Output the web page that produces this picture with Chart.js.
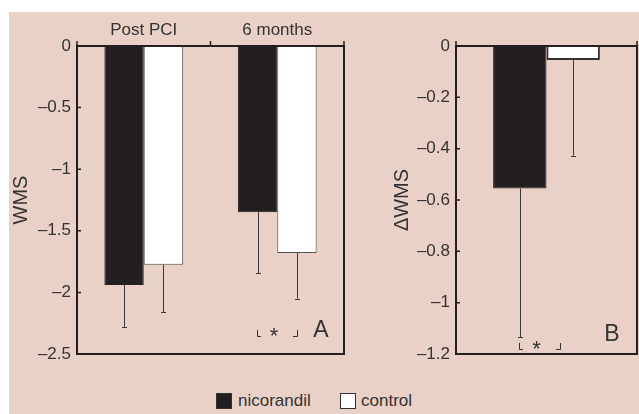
<!DOCTYPE html>
<html>
<head>
<meta charset="utf-8">
<script src="https://cdn.jsdelivr.net/npm/chart.js@4"></script>
<style>
  html, body { margin: 0; padding: 0; background: #ffffff; }
  #page { position: relative; width: 639px; height: 414px; overflow: hidden; }
  #bg { position: absolute; left: 9px; top: 12px; width: 630px; height: 402px; background: #e9d1c8; }
  .box { position: absolute; top: 0; height: 380px; }
  #boxA { left: 0; width: 360px; }
  #boxB { left: 360px; width: 279px; }
  #legend { position: absolute; top: 391px; left: 0; width: 639px; height: 20px;
            font-family: "Liberation Sans", Arial, sans-serif; font-size: 17px; color: #333; }
  #legend span { position: absolute; top: 0; line-height: 20px; }
  .sw { position: absolute; top: 2px; width: 14px; height: 14px; border: 1px solid #333; }
</style>
</head>
<body>
<div id="page">
  <div id="bg"></div>
  <div class="box" id="boxA"><canvas id="chartA"></canvas></div>
  <div class="box" id="boxB"><canvas id="chartB"></canvas></div>
  <div id="legend">
    <div class="sw" style="left:216px; background:#231f20;"></div>
    <span style="left:238px;">nicorandil</span>
    <div class="sw" style="left:340px; background:#ffffff;"></div>
    <span style="left:361px;">control</span>
  </div>
</div>
<script>
// valores
const periods = ['Post PCI', '6 months'];
const wmsNicorandil = [-1.94, -1.35];
const wmsControl = [-1.775, -1.68];
const wmsNicorandilSd = [0.34, 0.495];
const wmsControlSd = [0.385, 0.37];

const deltaLabels = [''];
const deltaNicorandil = [-0.555];
const deltaControl = [-0.055];
const deltaNicorandilSd = [0.58];
const deltaControlSd = [0.372];

const ticksA = [0, -0.5, -1, -1.5, -2, -2.5];
const ticksB = [0, -0.2, -0.4, -0.6, -0.8, -1, -1.2];

const ink = '#231f20';
const textColor = '#333';
const fontFam = '"Liberation Sans", Arial, sans-serif';

function fmt(v) {
    let s = String(parseFloat(Number(v).toFixed(2)));
    return s.replace('-', '\u2013');
}

// marco, ticks interiores y barras de error
function framePlugin(sdList, tickValues, boundaryTicks, note) {
    return {
        id: 'frame',
        afterDatasetsDraw(chart) {
            const ctx = chart.ctx;
            const y = chart.scales.y;
            ctx.save();
            ctx.strokeStyle = '#3a3a3a';
            ctx.lineWidth = 1;
            chart.data.datasets.forEach((ds, i) => {
                const meta = chart.getDatasetMeta(i);
                meta.data.forEach((bar, j) => {
                    const yEnd = y.getPixelForValue(ds.data[j] - sdList[i][j]);
                    ctx.beginPath();
                    ctx.moveTo(Math.round(bar.x) + 0.5, bar.y);
                    ctx.lineTo(Math.round(bar.x) + 0.5, yEnd);
                    ctx.moveTo(Math.round(bar.x) - 2, Math.round(yEnd) + 0.5);
                    ctx.lineTo(Math.round(bar.x) + 3, Math.round(yEnd) + 0.5);
                    ctx.stroke();
                });
            });
            ctx.restore();
        },
        afterDraw(chart) {
            const ctx = chart.ctx;
            const a = chart.chartArea;
            const y = chart.scales.y;
            ctx.save();
            ctx.strokeStyle = ink;
            ctx.lineWidth = 2;
            ctx.strokeRect(a.left, a.top, a.right - a.left, a.bottom - a.top);
            ctx.lineWidth = 1.5;
            ctx.beginPath();
            tickValues.forEach(v => {
                const py = y.getPixelForValue(v);
                ctx.moveTo(a.left, py);
                ctx.lineTo(a.left + 4, py);
            });
            boundaryTicks(chart).forEach(px => {
                ctx.moveTo(px, a.top);
                ctx.lineTo(px, a.top - 5);
            });
            ctx.stroke();
            note(chart, ctx);
            ctx.restore();
        }
    };
}

function bracket(ctx, x1, x2, yTop, yBot, starY) {
    ctx.strokeStyle = '#333';
    ctx.lineWidth = 1;
    ctx.beginPath();
    ctx.moveTo(x1 + 0.5, yTop);
    ctx.lineTo(x1 + 0.5, yBot + 0.5);
    ctx.lineTo(x1 + 4, yBot + 0.5);
    ctx.moveTo(x2 - 4, yBot + 0.5);
    ctx.lineTo(x2 + 0.5, yBot + 0.5);
    ctx.lineTo(x2 + 0.5, yTop);
    ctx.stroke();
    ctx.fillStyle = '#333';
    ctx.font = '22px ' + fontFam;
    ctx.textAlign = 'center';
    ctx.textBaseline = 'middle';
    ctx.fillText('*', (x1 + x2) / 2 - 3, starY);
}

function baseOptions(yMin, tickValues, title, titlePad, yWidth, pad) {
    return {
        responsive: true,
        maintainAspectRatio: false,
        animation: false,
        layout: { padding: pad },
        plugins: { legend: { display: false }, tooltip: { enabled: false } },
        scales: {
            x: {
                position: 'top',
                grid: { display: false, drawTicks: false },
                border: { display: false },
                ticks: { color: textColor, font: { family: fontFam, size: 17 }, padding: 5 },
                afterFit: s => { s.height = 46; }
            },
            y: {
                min: yMin,
                max: 0,
                grid: { display: false, drawTicks: false },
                border: { display: false },
                afterBuildTicks: s => { s.ticks = tickValues.map(v => ({ value: v })); },
                ticks: {
                    color: textColor,
                    font: { family: fontFam, size: 17 },
                    padding: 6,
                    callback: v => fmt(v)
                },
                title: {
                    display: true,
                    text: title,
                    color: textColor,
                    font: { family: fontFam, size: 20 },
                    padding: { top: titlePad, bottom: 0 }
                },
                afterFit: s => { s.width = yWidth; }
            }
        }
    };
}

// Panel A: WMS
const optsA = baseOptions(-2.5, ticksA, 'WMS', 9, 77, { left: 0, right: 16, top: 0, bottom: 26 });
new Chart(document.getElementById('chartA'), {
    type: 'bar',
    data: {
        labels: periods,
        datasets: [
            { label: 'nicorandil', data: wmsNicorandil, backgroundColor: ink, borderColor: ink, borderWidth: 1,
              categoryPercentage: 0.59, barPercentage: 1.0 },
            { label: 'control', data: wmsControl, backgroundColor: '#ffffff', borderColor: '#555', borderWidth: 1,
              categoryPercentage: 0.59, barPercentage: 1.0 }
        ]
    },
    options: optsA,
    plugins: [framePlugin([wmsNicorandilSd, wmsControlSd], ticksA,
        chart => {
            const a = chart.chartArea;
            return [a.left, (a.left + a.right) / 2, a.right];
        },
        (chart, ctx) => {
            const y = chart.scales.y;
            const b1 = chart.getDatasetMeta(0).data[1];
            const b2 = chart.getDatasetMeta(1).data[1];
            bracket(ctx, Math.round(b1.x) - 1, Math.round(b2.x), y.getPixelForValue(-2.305),
                Math.round(y.getPixelForValue(-2.355)), y.getPixelForValue(-2.36));
            ctx.font = '23px ' + fontFam;
            ctx.textAlign = 'center';
            ctx.textBaseline = 'alphabetic';
            ctx.fillText('A', chart.chartArea.right - 23, y.getPixelForValue(-2.28) + 10);
        })]
});

// Panel B: cambio de WMS
const optsB = baseOptions(-1.2, ticksB, '\u0394WMS', 30, 96, { left: 0, right: 2, top: 0, bottom: 26 });
optsB.scales.x.ticks.display = false;
new Chart(document.getElementById('chartB'), {
    type: 'bar',
    data: {
        labels: deltaLabels,
        datasets: [
            { label: 'nicorandil', data: deltaNicorandil, backgroundColor: ink, borderColor: ink, borderWidth: 1,
              categoryPercentage: 0.59, barPercentage: 1.0 },
            { label: 'control', data: deltaControl, backgroundColor: '#ffffff', borderColor: '#333', borderWidth: 2,
              categoryPercentage: 0.59, barPercentage: 1.0 }
        ]
    },
    options: optsB,
    plugins: [framePlugin([deltaNicorandilSd, deltaControlSd], ticksB,
        chart => [chart.chartArea.left, chart.chartArea.right],
        (chart, ctx) => {
            const y = chart.scales.y;
            const b1 = chart.getDatasetMeta(0).data[0];
            bracket(ctx, Math.round(b1.x) - 1, Math.round(b1.x) + 40, y.getPixelForValue(-1.157),
                Math.round(y.getPixelForValue(-1.18)), y.getPixelForValue(-1.183));
            ctx.font = '23px ' + fontFam;
            ctx.textAlign = 'center';
            ctx.textBaseline = 'alphabetic';
            ctx.fillText('B', chart.chartArea.right - 25, y.getPixelForValue(-1.1) + 13);
        })]
});
</script>
</body>
</html>
